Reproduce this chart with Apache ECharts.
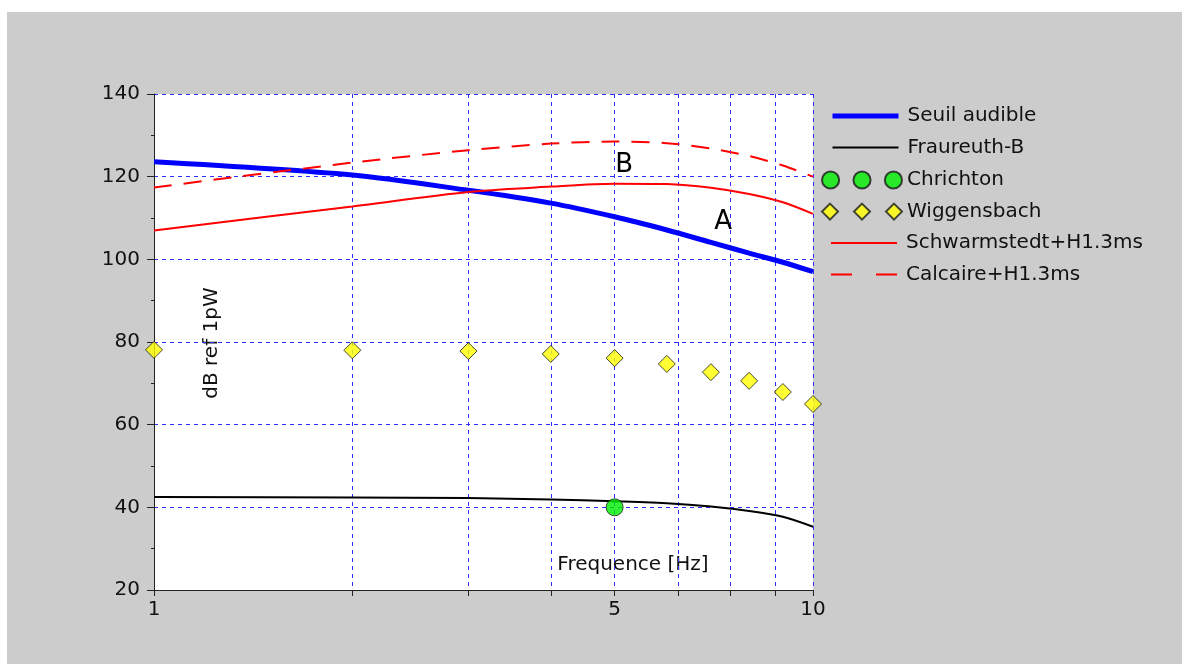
<!DOCTYPE html>
<html><head><meta charset="utf-8">
<script src="https://cdn.jsdelivr.net/npm/echarts@6/dist/echarts.min.js"></script>
<style>html,body{margin:0;padding:0;background:#fff;}#c{position:absolute;left:7px;top:12px;width:1175px;height:652px;}</style>
</head><body><div id="c"></div>
<script>
const freqs = [1, 2, 3, 4, 5, 6, 7, 8, 9, 10];
const seuil = [123.6, 120.4, 116.7, 113.6, 110.3, 107.1, 104.1, 101.5, 99.3, 97.0];
const fraureuth = [42.5, 42.4, 42.25, 41.9, 41.5, 41.0, 40.2, 39.1, 37.7, 35.3];
const schwarm = [107.0, 112.8, 116.3, 117.6, 118.3, 118.2, 117.3, 115.8, 113.8, 111.0];
const calcaire = [117.4, 123.4, 126.4, 128.0, 128.5, 128.1, 126.8, 125.0, 122.7, 120.0];
const wiggFreq = [1, 2, 3, 4, 5, 6, 7, 8, 9, 10];
const wigg = [78.1, 78.0, 77.8, 77.1, 76.1, 74.7, 72.7, 70.6, 67.9, 65.0];
const chrFreq = [5];
const chr = [40];
const xTicks = [1, 2, 3, 4, 5, 6.25, 7.5, 8.75, 10];
const xLabels = [1, 5, 10];
const noteText = ['A', 'B'];
const noteFreq = [7.32, 5.18];
const noteVal = [108.8, 122.6];

const FONT = 'DejaVu Sans';
const zip = (xs, ys) => xs.map((x, i) => [x, ys[i]]);
const gridLine = { color: '#2f2fff', type: [4, 4], width: 1 };
const legendText = { fontSize: 20, fontFamily: FONT, color: '#111', lineHeight: 20 };

const chart = echarts.init(document.getElementById('c'), null, { renderer: 'canvas' });
chart.setOption({
  animation: false,
  backgroundColor: '#cccccc',
  grid: { left: 147, right: 369, top: 82, bottom: 74, show: true, backgroundColor: '#ffffff', borderWidth: 0 },
  xAxis: {
    type: 'log', logBase: 10, min: 1, max: 10,
    axisLine: { show: true, onZero: false, lineStyle: { color: '#222', width: 1 } },
    axisTick: { show: true, customValues: xTicks, length: 6, lineStyle: { color: '#222' } },
    axisLabel: { customValues: xLabels, fontSize: 20, fontFamily: FONT, color: '#111', margin: 10 },
    splitLine: { show: true, lineStyle: gridLine },
    minorTick: { show: false }, minorSplitLine: { show: false }
  },
  yAxis: {
    type: 'value', min: 20, max: 140, interval: 20,
    axisLine: { show: true, lineStyle: { color: '#222', width: 1 } },
    axisTick: { show: true, length: 7, lineStyle: { color: '#222' } },
    minorTick: { show: true, splitNumber: 2, length: 3, lineStyle: { color: '#222' } },
    axisLabel: { fontSize: 20, fontFamily: FONT, color: '#111', margin: 14 },
    splitLine: { show: true, lineStyle: gridLine }
  },
  legend: [
    { orient: 'vertical', left: 823, top: 94, padding: 0, itemWidth: 66, itemHeight: 14, itemGap: 11.6,
      selectedMode: false, itemStyle: { opacity: 0 }, textStyle: Object.assign({ padding: [0, 0, 0, 4] }, legendText),
      data: [
        { name: 'Seuil audible', itemStyle: { opacity: 0 }, lineStyle: { width: 5, color: '#0000ff' } },
        { name: 'Fraureuth-B', itemStyle: { opacity: 0 }, lineStyle: { width: 2, color: '#000000' } }
      ] },
    { orient: 'vertical', left: 814, top: 158, padding: 0, itemWidth: 80, itemHeight: 18, itemGap: 11.6,
      selectedMode: false, textStyle: legendText,
      data: [
        { name: 'Chrichton', icon: 'path://M0,9a9,9 0 1,0 18,0a9,9 0 1,0 -18,0ZM33,9a9,9 0 1,0 18,0a9,9 0 1,0 -18,0ZM66,9a9,9 0 1,0 18,0a9,9 0 1,0 -18,0Z' },
        { name: 'Wiggensbach', icon: 'path://M8,0L16,8L8,16L0,8ZM40,0L48,8L40,16L32,8ZM72,0L80,8L72,16L64,8Z' }
      ] },
    { orient: 'vertical', left: 823, top: 221, padding: 0, itemWidth: 66, itemHeight: 14, itemGap: 11.6,
      selectedMode: false, itemStyle: { opacity: 0 }, textStyle: Object.assign({ padding: [0, 0, 0, 4] }, legendText),
      data: [
        { name: 'Schwarmstedt+H1.3ms', itemStyle: { opacity: 0 }, lineStyle: { width: 2, color: '#ff0000' } },
        { name: 'Calcaire+H1.3ms', itemStyle: { opacity: 0 }, lineStyle: { width: 2, color: '#ff0000', type: [21, 24] } }
      ] }
  ],
  series: [
    { name: 'Seuil audible', type: 'line', data: zip(freqs, seuil), symbol: 'none', smooth: 0.3,
      lineStyle: { color: '#0000ff', width: 5 }, itemStyle: { color: '#0000ff' }, z: 3 },
    { name: 'Fraureuth-B', type: 'line', data: zip(freqs, fraureuth), symbol: 'none', smooth: 0.3,
      lineStyle: { color: '#000000', width: 2 }, itemStyle: { color: '#000000' }, z: 3 },
    { name: 'Chrichton', type: 'scatter', data: zip(chrFreq, chr), symbol: 'circle', symbolSize: 17,
      itemStyle: { color: '#00ee00', borderColor: '#1a1a1a', borderWidth: 1 }, z: 5 },
    { name: 'Wiggensbach', type: 'scatter', data: zip(wiggFreq, wigg), symbol: 'diamond', symbolSize: 17,
      itemStyle: { color: '#ffff00', borderColor: '#1a1a1a', borderWidth: 1 }, z: 5 },
    { name: 'Schwarmstedt+H1.3ms', type: 'line', data: zip(freqs, schwarm), symbol: 'none', smooth: 0.3,
      lineStyle: { color: '#ff0000', width: 2 }, itemStyle: { color: '#ff0000' }, z: 3 },
    { name: 'Calcaire+H1.3ms', type: 'line', data: zip(freqs, calcaire), symbol: 'none', smooth: 0.3,
      lineStyle: { color: '#ff0000', width: 2, type: [18, 12] }, itemStyle: { color: '#ff0000' }, z: 3 },
    { name: 'notes', type: 'scatter', symbolSize: 1, itemStyle: { color: 'rgba(0,0,0,0)' },
      data: noteText.map((t, i) => ({ name: t, value: [noteFreq[i], noteVal[i]] })),
      label: { show: true, position: [0, 0], align: 'center', verticalAlign: 'middle', formatter: p => p.name,
        fontSize: 26, fontFamily: FONT, color: '#000', textBorderWidth: 0, opacity: 1 },
      silent: true, z: 6 }
  ],
  graphic: [
    { type: 'text', x: 626, y: 553, silent: true,
      style: { text: 'Frequence [Hz]', font: '20px "DejaVu Sans"', fill: '#111', align: 'center', verticalAlign: 'middle', textAlign: 'center', textVerticalAlign: 'middle' } },
    { type: 'text', x: 205, y: 331, rotation: Math.PI / 2, silent: true,
      style: { text: 'dB ref 1pW', font: '20px "DejaVu Sans"', fill: '#111', align: 'center', verticalAlign: 'middle', textAlign: 'center', textVerticalAlign: 'middle' } }
  ]
});
</script></body></html>
